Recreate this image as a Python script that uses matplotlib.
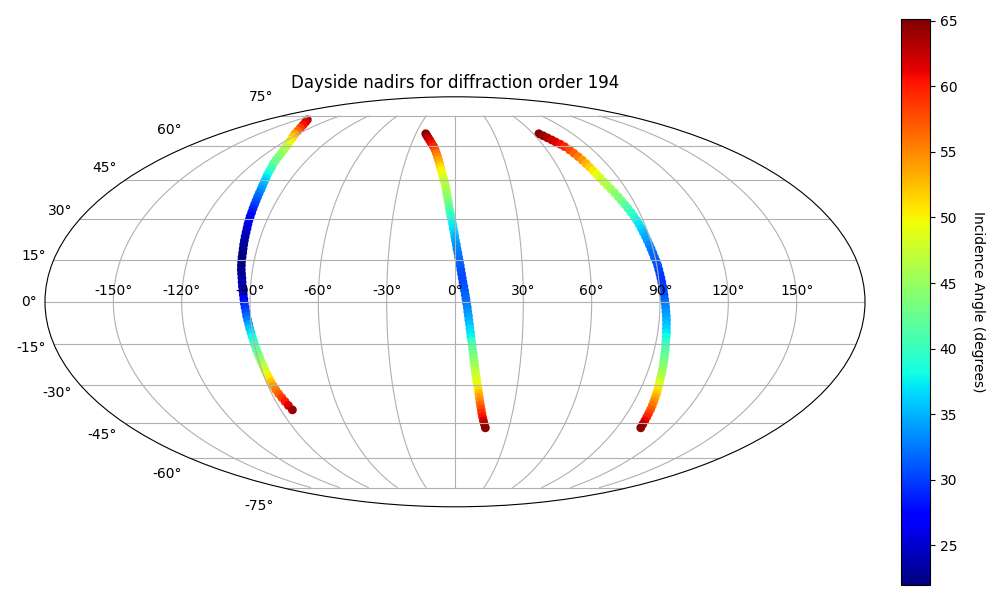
import numpy as np
import matplotlib
matplotlib.use("Agg")
import matplotlib.pyplot as plt

lat_a = [72.9,71.5,70,68.5,67,65.5,64,62.5,61,59.5,58,56.5,55,53.5,52,50.5,49,47.5,46,44.5,43,41.5,40,38.5,37,35.5,34,32.5,31,29.5,28,26.5,25,23.5,22,20.5,19,17.5,16,14.5,13,11.5,10,8.5,7,5.5,4,2.5,1,-0.5,-2,-3.5,-5,-6.5,-8,-9.5,-11,-12.5,-14,-15.5,-17,-18.5,-20,-21.5,-23,-24.5,-26,-27.5,-29,-30.5,-32,-33.5,-35,-36.5,-38,-39.7]
lon_a = [-141,-136,-131.6,-128,-125,-122.5,-119.8,-117.4,-115.2,-113.4,-111.9,-110.7,-109.7,-108.8,-108,-106.7,-105.9,-105.1,-104.1,-103.3,-102.6,-101.9,-101.4,-100.9,-100.4,-100,-99.6,-99.2,-98.9,-98.6,-98.2,-97.8,-97.5,-97.2,-96.9,-96.6,-96.3,-96,-95.8,-95.6,-95.3,-95,-94.6,-94.2,-93.9,-93.6,-93.3,-93,-92.7,-92.5,-92.2,-91.9,-91.7,-91.4,-91.1,-90.9,-90.6,-90.4,-90.1,-89.9,-89.7,-89.4,-89.2,-89,-88.7,-88.5,-88.2,-88,-87.8,-87.5,-87.1,-86.6,-86,-85.4,-84.8,-84]
inc_a = [63,61.5,60.5,58.5,56.5,54,52,50.5,49,47,46,45,44,43.2,42.3,41.2,39.8,38,36.9,35.8,34.8,33.8,32.8,31.9,31,30.1,29.2,28.3,27.4,26.5,25.9,25.3,24.7,24.2,23.7,23.2,22.8,22.4,22.1,21.95,22.1,22.3,22.5,23,23.6,24.2,25.2,26.2,27.2,28.3,29.4,30.4,31.5,32.8,34.2,35.5,36.7,37.9,39.1,40.4,41.6,42.8,44,45.2,46.3,47.5,49,50.5,52.2,53.9,55.4,56.9,58.5,60,61.7,64]

lat_b = [65.6,64.6,63.6,62.6,61.6,60.6,59.5,58,56.5,55,53.5,52,50.5,49,47.5,46,44.5,43,41.5,40,38.5,37,35.5,34,32.5,31,29.5,28,26.5,25,23.5,22,20.5,19,17.5,16,14.5,13,11.5,10,8.5,7,5.5,4,2.5,1,-0.5,-2,-3.5,-5,-6.5,-8,-9.5,-11,-12.5,-14,-15.5,-17,-18.5,-20,-21.5,-23,-24.5,-26,-27.5,-29,-30.5,-32,-33.5,-35,-36.5,-38,-39.5,-41,-42.5,-44,-45.5,-46.9]
lon_b = [-22.4,-21,-19.6,-18.2,-17,-15.7,-14.3,-13,-11.9,-10.9,-10,-9.2,-8.5,-7.8,-7.1,-6.4,-5.7,-5.1,-4.7,-4.3,-3.9,-3.5,-3.1,-2.8,-2.4,-2,-1.5,-1.1,-0.8,-0.4,-0.1,0.2,0.6,0.9,1.3,1.6,2,2.3,2.6,2.9,3.2,3.5,3.9,4.2,4.5,4.8,5.1,5.4,5.6,5.9,6.1,6.4,6.6,6.9,7.1,7.4,7.7,7.9,8.2,8.5,8.8,9.1,9.4,9.7,10.1,10.4,10.8,11.3,11.7,12.1,12.5,13,13.5,14,14.6,15.3,16.1,16.9]
inc_b = [65.15,64.2,63.4,62.5,61.6,60.7,59.5,57.8,56,54.9,53.7,52.5,51.2,50.2,49.4,48.4,47.4,46.6,45.9,45.2,44.5,43.8,43,41.8,40.6,39.4,38.2,37.6,37,36.2,35.4,34.6,33.7,33.2,32.7,32.3,31.9,31.5,31,30.7,30.5,30.5,30.8,31.1,31.5,31.8,32.2,33,33.6,34.2,34.8,35.5,36.3,37,37.6,39.5,41.1,42,42.9,43.7,44.6,45.4,46.3,47.1,48,48.8,49.9,51.3,52.7,54,55.3,56.6,57.9,59.1,60.4,61.7,63.1,64.5]

lat_c = [65.6,64.6,63.6,62.6,61.6,60.6,59.5,58,56.5,55,53.5,52,50.5,49,47.5,46,44.5,43,41.5,40,38.5,37,35.5,34,32.5,31,29.5,28,26.5,25,23.5,22,20.5,19,17.5,16,14.5,13,11.5,10,8.5,7,5.5,4,2.5,1,-0.5,-2,-3.5,-5,-6.5,-8,-9.5,-11,-12.5,-14,-15.5,-17,-18.5,-20,-21.5,-23,-24.5,-26,-27.5,-29,-30.5,-32,-33.5,-35,-36.5,-38,-39.5,-41,-42.5,-44,-45.5,-46.9]
lon_c = [64.3,66,67.6,69.2,70.6,72.2,73.6,74.9,75.8,76.6,77.3,77.9,78.4,78.9,79.4,79.9,80.5,81.3,82,82.7,83.4,84,84.7,85.3,85.9,86.4,86.9,87.3,87.6,87.9,88.2,88.5,88.8,89.1,89.4,89.7,90.1,90.4,90.6,90.8,91,91.2,91.4,91.6,91.8,92,92.3,92.5,92.7,93,93.2,93.4,93.6,93.9,94.1,94.3,94.6,94.9,95.2,95.5,95.8,96.2,96.5,96.9,97.2,97.6,98,98.5,99,99.4,99.9,100.4,100.9,101.3,101.8,102.3,102.8,103.4]
inc_c = [65.15,64.2,63.4,62.5,61.6,60.7,59.5,58,56.8,55.6,54.3,53,51.8,50.6,49.4,48.3,47.2,46.3,45.4,44.7,44,43.3,42.1,41,40.1,39,37.9,37.2,36.4,35.6,34.9,34.1,33.3,32.6,32,31.6,31.2,30.8,30.3,29.9,29.6,29.5,29.8,30.2,30.7,31.3,32.1,33,33.6,34.2,34.9,35.5,36.2,37,38,39,40.3,41,41.7,42.4,43.2,44,44.8,45.6,46.6,47.8,49.2,50.8,52,53.5,54.6,55.8,57,58.3,59.6,61,62.8,64.5]

title = "Dayside nadirs for diffraction order 194"
cbar_label = "Incidence Angle (degrees)"

lats = np.radians(lat_a + lat_b + lat_c)
lons = np.radians(lon_a + lon_b + lon_c)
incs = np.array(inc_a + inc_b + inc_c)

fig = plt.figure(figsize=(10, 6), dpi=100)
ax = fig.add_axes([0.045, 93.2 / 600, 0.82, 410 / 600], projection="mollweide")
sc = ax.scatter(lons, lats, c=incs, cmap="jet", s=40, linewidths=0)
ax.grid(True)
ax.set_title(title, fontsize=12)
cax = fig.add_axes([0.901, 15 / 600, 0.029, 566 / 600])
cb = fig.colorbar(sc, cax=cax)
cb.set_label(cbar_label, rotation=270, labelpad=20)
fig.savefig("out.png", dpi=100)
